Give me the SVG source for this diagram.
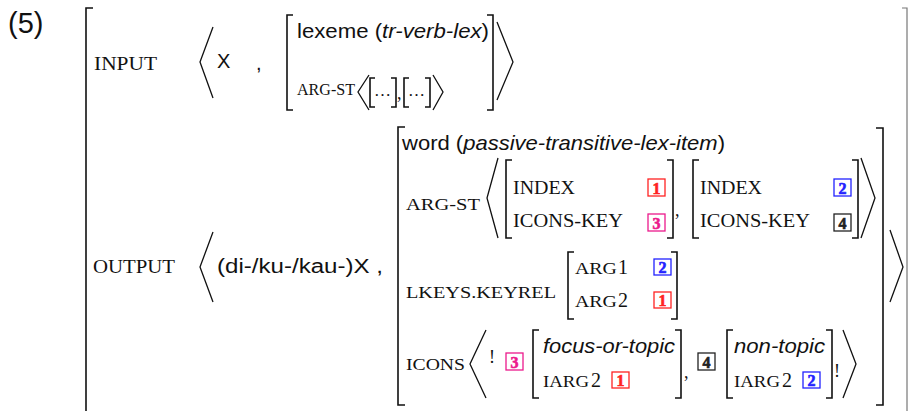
<svg xmlns="http://www.w3.org/2000/svg" width="909" height="411" viewBox="0 0 909 411">
<style>
text{fill:#111}
.sans{font-family:"Liberation Sans",Arial,sans-serif;font-size:20px}
.it{font-style:italic}
.sc{font-family:"Liberation Serif","Times New Roman",serif;font-size:17px}
.cap{font-family:"Liberation Serif","Times New Roman",serif;font-size:18px}
.dig{font-family:"Liberation Serif","Times New Roman",serif;font-size:20px}
.br{fill:none;stroke:#111;stroke-width:1.6}
.ang{fill:none;stroke:#111;stroke-width:1.3}
.tag{font-family:"Liberation Serif","Times New Roman",serif;font-size:16px;font-weight:700;text-anchor:middle;stroke-width:0.6}
.red{stroke:#f22;fill:#fff;stroke-width:1.3}
.blue{stroke:#22f;fill:#fff;stroke-width:1.3}
.mag{stroke:#ec1a8c;fill:#fff;stroke-width:1.3}
.blk{stroke:#222;fill:#fff;stroke-width:1.3}
.tr{fill:#f22;stroke:#f22}
.tb{fill:#22f;stroke:#22f}
.tm{fill:#ec1a8c;stroke:#ec1a8c}
.tk{fill:#222;stroke:#222}
</style>
<rect width="909" height="411" fill="#fff"/>

<g id="label">
<text class="sans" x="8" y="33" style="font-size:29px">(5)</text>
</g>

<g id="outer">
<path class="br" d="M93 8 H86 V411"/>
<path d="M902 8 H907 V411" fill="none" stroke="#777" stroke-width="1.2"/>
</g>

<g id="input">
<text class="sc" x="94" y="70" style="font-size:18px" textLength="63" lengthAdjust="spacingAndGlyphs">INPUT</text>
<path class="ang" d="M213 27 L200 62 L213 98"/>
<text class="sans" x="217" y="68">X</text>
<text class="sans" x="256" y="70">,</text>
<path class="br" d="M293 15 H287 V110 H293"/>
<path class="br" d="M487 15 H493 V110 H487"/>
<text class="sans" x="297" y="38" textLength="192" lengthAdjust="spacingAndGlyphs">lexeme (<tspan class="it">tr-verb-lex</tspan>)</text>
<text class="sc" x="297" y="95" style="font-size:16px" textLength="58" lengthAdjust="spacingAndGlyphs">ARG-ST</text>
<path class="ang" d="M369 75 L358 92 L369 110"/>
<path class="br" d="M375 78 H370 V107 H375"/>
<text class="sc" x="374" y="96">…</text>
<path class="br" d="M391 78 H396 V107 H391"/>
<text class="cap" x="397" y="99">,</text>
<path class="br" d="M409 78 H404 V107 H409"/>
<text class="sc" x="408" y="96">…</text>
<path class="br" d="M425 78 H430 V107 H425"/>
<path class="ang" d="M433 75 L443 92 L433 110"/>
<path class="ang" d="M497 22 L513 62 L497 100"/>
</g>

<g id="output">
<text class="sc" x="93" y="273" style="font-size:18px" textLength="82" lengthAdjust="spacingAndGlyphs">OUTPUT</text>
<path class="ang" d="M213 232 L200 267 L213 302"/>
<text class="sans" x="217" y="273" textLength="166" lengthAdjust="spacingAndGlyphs">(di-/ku-/kau-)X ,</text>
<path class="br" d="M405 127 H398 V405 H405"/>
<path class="br" d="M876 128 H883 V405 H876"/>
<path class="ang" d="M890 230 L903 267 L890 302"/>
<text class="sans" x="402" y="150" style="font-size:21px" textLength="323" lengthAdjust="spacingAndGlyphs">word (<tspan class="it">passive-transitive-lex-item</tspan>)</text>
</g>

<g id="argst">
<text class="sc" x="406" y="210" textLength="74" lengthAdjust="spacingAndGlyphs">ARG-ST</text>
<path class="ang" d="M498 158 L487 198 L498 238"/>
<path class="br" d="M512 160 H506 V238 H512"/>
<path class="br" d="M667 160 H673 V238 H667"/>
<text class="cap" x="513" y="194" textLength="62" lengthAdjust="spacingAndGlyphs">INDEX</text>
<rect class="red" x="648" y="179" width="17" height="17"/>
<text class="tag tr" x="656.5" y="193.5">1</text>
<text class="cap" x="513" y="227" textLength="110" lengthAdjust="spacingAndGlyphs">ICONS-KEY</text>
<rect class="mag" x="648" y="214" width="17" height="17"/>
<text class="tag tm" x="656.5" y="228.5">3</text>
<text class="cap" x="675" y="216">,</text>
<path class="br" d="M699 160 H693 V238 H699"/>
<path class="br" d="M852 160 H858 V238 H852"/>
<text class="cap" x="700" y="194" textLength="62" lengthAdjust="spacingAndGlyphs">INDEX</text>
<rect class="blue" x="834" y="179" width="17" height="17"/>
<text class="tag tb" x="842.5" y="193.5">2</text>
<text class="cap" x="700" y="227" textLength="110" lengthAdjust="spacingAndGlyphs">ICONS-KEY</text>
<rect class="blk" x="834" y="214" width="17" height="17"/>
<text class="tag tk" x="842.5" y="228.5">4</text>
<path class="ang" d="M861 158 L875 198 L861 238"/>
</g>

<g id="lkeys">
<text class="sc" x="406" y="298" textLength="150" lengthAdjust="spacingAndGlyphs">LKEYS.KEYREL</text>
<path class="br" d="M574 252 H568 V319 H574"/>
<path class="br" d="M671 252 H677 V319 H671"/>
<text class="sc" x="575" y="274" textLength="42" lengthAdjust="spacingAndGlyphs">ARG</text>
<text class="dig" x="618" y="274">1</text>
<rect class="blue" x="654" y="259" width="17" height="16"/>
<text class="tag tb" x="662.5" y="273">2</text>
<text class="sc" x="575" y="307" textLength="42" lengthAdjust="spacingAndGlyphs">ARG</text>
<text class="dig" x="618" y="307">2</text>
<rect class="red" x="654" y="292" width="17" height="16"/>
<text class="tag tr" x="662.5" y="306">1</text>
</g>

<g id="icons">
<text class="sc" x="406" y="370" textLength="59" lengthAdjust="spacingAndGlyphs">ICONS</text>
<path class="ang" d="M486 330 L470 364 L486 398"/>
<text class="cap" x="489" y="363">!</text>
<rect class="mag" x="506" y="353" width="17" height="17"/>
<text class="tag tm" x="514.5" y="367.5">3</text>
<path class="br" d="M539 330 H533 V398 H539"/>
<path class="br" d="M675 330 H681 V398 H675"/>
<text class="sans it" x="543" y="353" textLength="132" lengthAdjust="spacingAndGlyphs">focus-or-topic</text>
<text class="sc" x="543" y="387" textLength="46" lengthAdjust="spacingAndGlyphs">IARG</text>
<text class="dig" x="591" y="387">2</text>
<rect class="red" x="612" y="372" width="17" height="16"/>
<text class="tag tr" x="620.5" y="386">1</text>
<text class="cap" x="684" y="378">,</text>
<rect class="blk" x="698" y="353" width="17" height="17"/>
<text class="tag tk" x="706.5" y="367.5">4</text>
<path class="br" d="M733 330 H727 V398 H733"/>
<path class="br" d="M826 330 H832 V398 H826"/>
<text class="sans it" x="734" y="353" textLength="91" lengthAdjust="spacingAndGlyphs">non-topic</text>
<text class="sc" x="734" y="387" textLength="46" lengthAdjust="spacingAndGlyphs">IARG</text>
<text class="dig" x="782" y="387">2</text>
<rect class="blue" x="803" y="372" width="17" height="16"/>
<text class="tag tb" x="811.5" y="386">2</text>
<text class="cap" x="834" y="377">!</text>
<path class="ang" d="M843 330 L856 364 L843 398"/>
</g>
</svg>
